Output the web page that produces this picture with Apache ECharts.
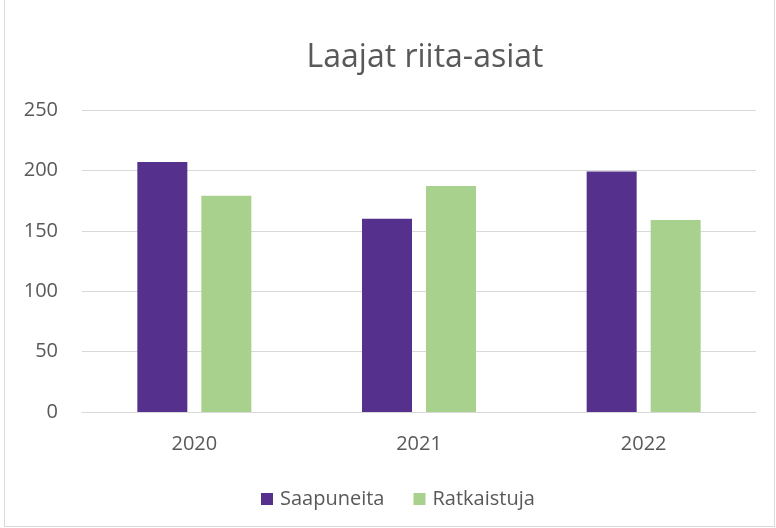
<!DOCTYPE html>
<html><head><meta charset="utf-8">
<script src="https://cdn.jsdelivr.net/npm/echarts@6/dist/echarts.min.js"></script>
<style>
html,body{margin:0;padding:0;background:#fff;}
#c{position:absolute;left:0;top:0;width:776px;height:528px;}
#b{position:absolute;left:4px;top:0;width:769px;height:526px;border:1px solid #d9d9d9;border-top:none;pointer-events:none;}
</style></head>
<body><div id="c"></div><div id="b"></div>
<script>
const title = 'Laajat riita-asiat';
const categories = ['2020', '2021', '2022'];
const seriesNames = ['Saapuneita', 'Ratkaistuja'];
const saapuneita = [207, 160, 199];
const ratkaistuja = [179, 187, 159];
const yTicks = [0, 50, 100, 150, 200, 250];

const font = '"Open Sans", sans-serif';
const chart = echarts.init(document.getElementById('c'), null, {renderer: 'canvas'});
chart.setOption({
  animation: false,
  title: {text: title, left: 420, textAlign: 'center', top: 33, textStyle: {fontFamily: font, fontSize: 32, fontWeight: 'normal', color: '#595959', lineHeight: 40}},
  grid: {left: 82, right: 20, top: 110, bottom: 116},
  legend: {top: 489, left: 261, padding: 0, itemWidth: 12, itemHeight: 12, itemGap: 29, icon: 'rect',
    textStyle: {fontFamily: font, fontSize: 20, color: '#595959', padding: [0, 0, 0, 2]}, data: seriesNames},
  xAxis: {type: 'category', data: categories,
    axisLine: {show: true, lineStyle: {color: '#d9d9d9', width: 1}}, axisTick: {show: false},
    axisLabel: {fontFamily: font, fontSize: 20, lineHeight: 20, color: '#595959', margin: 22}},
  yAxis: {type: 'value', min: yTicks[0], max: yTicks[yTicks.length-1], interval: 50,
    axisLine: {show: false}, axisTick: {show: false},
    splitLine: {lineStyle: {color: '#d9d9d9', width: 1}},
    axisLabel: {fontFamily: font, fontSize: 20, color: '#595959', margin: 24}},
  series: [
    {name: seriesNames[0], type: 'bar', data: saapuneita, barWidth: 50, barGap: '28%', itemStyle: {color: '#55308D'}},
    {name: seriesNames[1], type: 'bar', data: ratkaistuja, barWidth: 50, itemStyle: {color: '#A9D18E'}}
  ]
});
</script></body></html>
